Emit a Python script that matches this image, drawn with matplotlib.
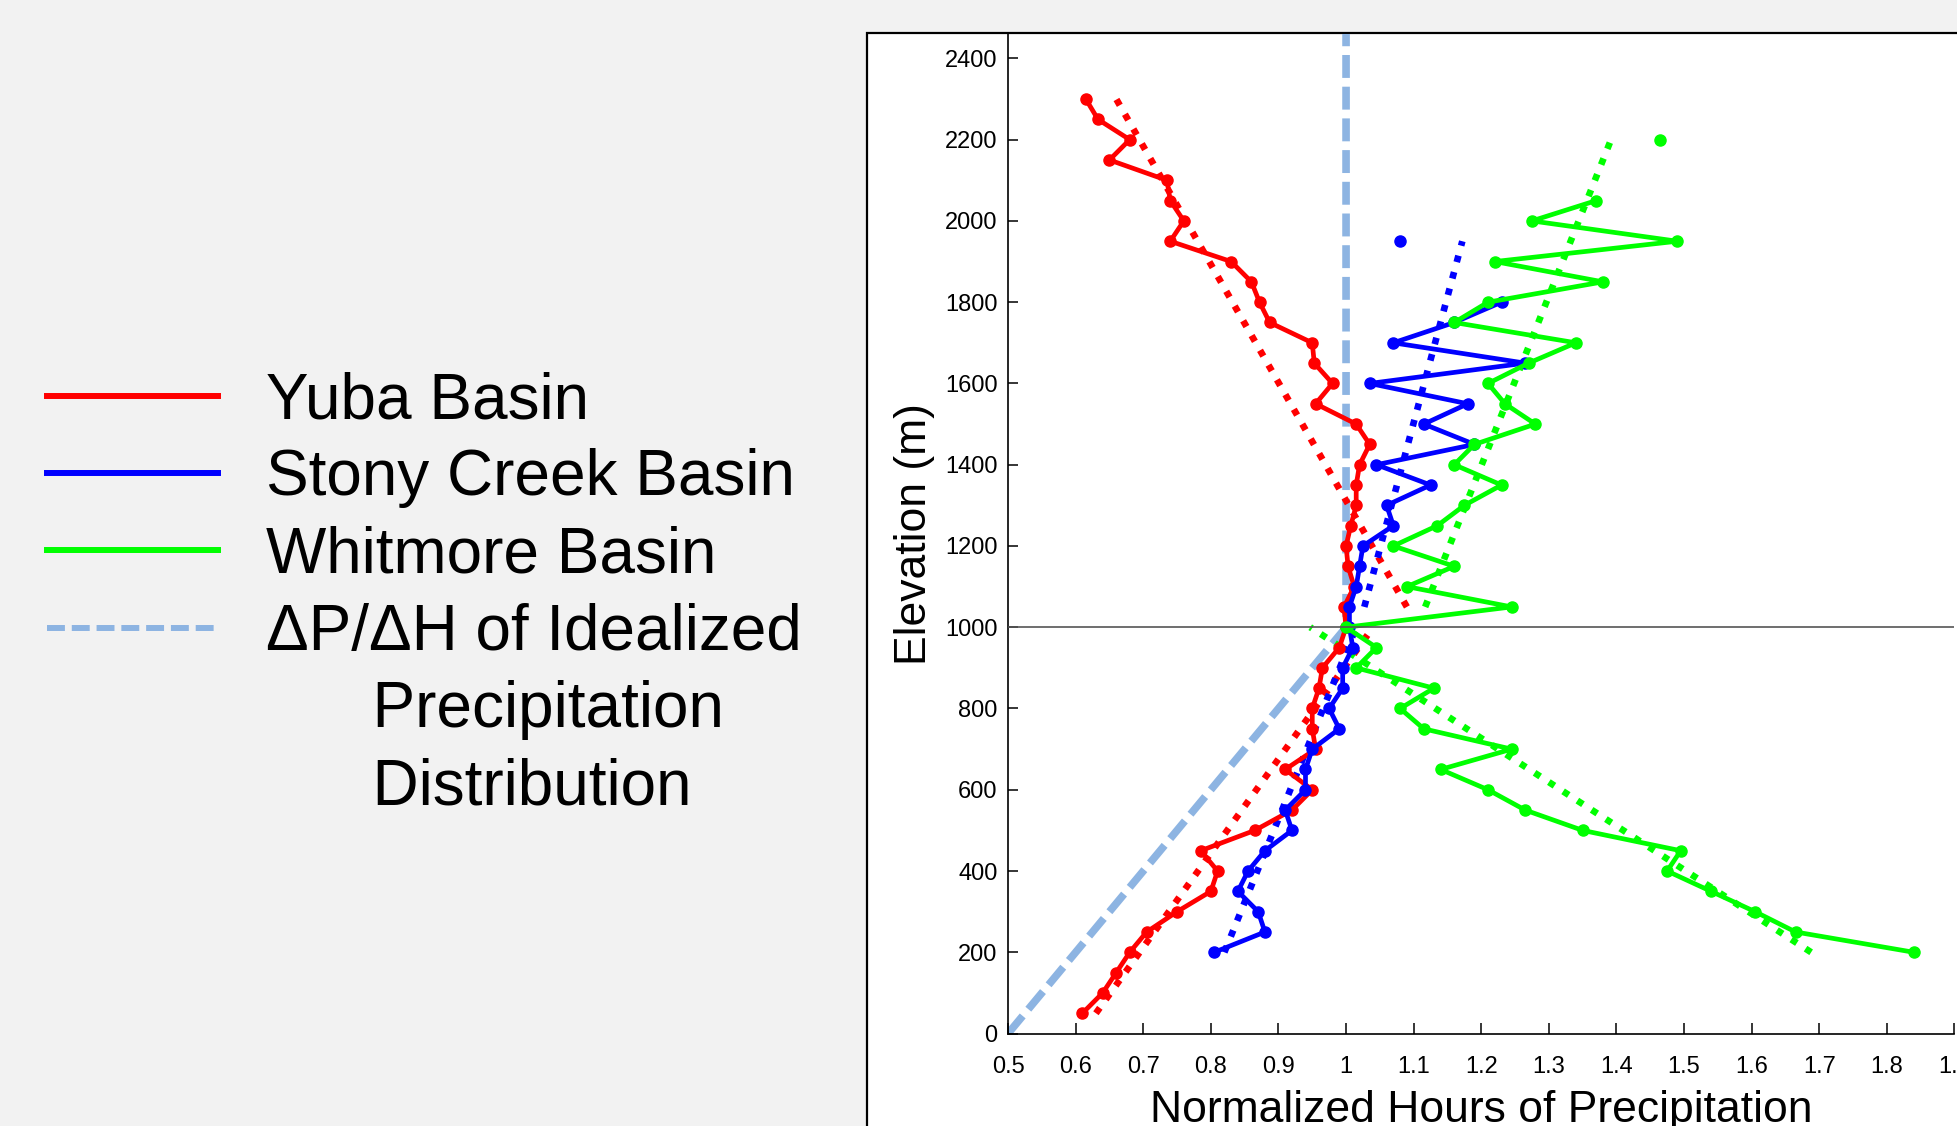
import matplotlib
matplotlib.use('Agg')
import matplotlib.pyplot as plt
from matplotlib.lines import Line2D
from matplotlib.patches import Rectangle
import numpy as np

plt.rcParams['font.family'] = ['Liberation Sans', 'DejaVu Sans']

nan = np.nan

# Yuba Basin: elevation (m) and normalized hours of precipitation
yuba_elev = [50, 100, 150, 200, 250, 300, 350, 400, 450, 500, 550, 600, 650, 700,
             750, 800, 850, 900, 950, 1000, 1050, 1100, 1150, 1200, 1250, 1300,
             1350, 1400, 1450, 1500, 1550, 1600, 1650, 1700, 1750, 1800, 1850,
             1900, 1950, 2000, 2050, 2100, 2150, 2200, 2250, 2300]
yuba_hours = [0.61, 0.64, 0.66, 0.68, 0.705, 0.75, 0.80, 0.81, 0.785, 0.865, 0.92,
              0.95, 0.91, 0.955, 0.95, 0.95, 0.96, 0.965, 0.99, 1.0, 0.997, 1.012,
              1.003, 1.0, 1.007, 1.015, 1.015, 1.02, 1.035, 1.015, 0.955, 0.98,
              0.953, 0.95, 0.887, 0.872, 0.86, 0.83, 0.74, 0.76, 0.74, 0.735,
              0.65, 0.68, 0.633, 0.615]

# Stony Creek Basin
stony_elev = [200, 250, 300, 350, 400, 450, 500, 550, 600, 650, 700, 750, 800, 850,
              900, 950, 1000, 1050, 1100, 1150, 1200, 1250, 1300, 1350, 1400, 1450,
              1500, 1550, 1600, 1650, 1700, 1750, 1800, 1850, 1900, 1950]
stony_hours = [0.805, 0.88, 0.87, 0.84, 0.855, 0.88, 0.92, 0.91, 0.94, 0.94, 0.95,
               0.99, 0.975, 0.995, 0.995, 1.01, 1.005, 1.005, 1.015, 1.02, 1.025,
               1.07, 1.06, 1.125, 1.045, 1.19, 1.115, 1.18, 1.035, 1.265, 1.07,
               1.16, 1.23, nan, nan, 1.08]

# Whitmore Basin
whit_elev = [200, 250, 300, 350, 400, 450, 500, 550, 600, 650, 700, 750, 800, 850,
             900, 950, 1000, 1050, 1100, 1150, 1200, 1250, 1300, 1350, 1400, 1450,
             1500, 1550, 1600, 1650, 1700, 1750, 1800, 1850, 1900, 1950, 2000,
             2050, 2100, 2150, 2200]
whit_hours = [1.84, 1.665, 1.605, 1.54, 1.475, 1.495, 1.35, 1.265, 1.21, 1.14, 1.245,
              1.115, 1.08, 1.13, 1.015, 1.045, 1.0, 1.245, 1.09, 1.16, 1.07, 1.135,
              1.175, 1.23, 1.16, 1.19, 1.28, 1.235, 1.21, 1.27, 1.34, 1.16, 1.21,
              1.38, 1.22, 1.49, 1.275, 1.37, nan, nan, 1.465]

# linear fits below / above 1000 m (end points)
yuba_fit_low_x, yuba_fit_low_y = [0.63, 1.04], [50, 1000]
yuba_fit_up_x, yuba_fit_up_y = [1.09, 0.66], [1050, 2300]
stony_fit_low_x, stony_fit_low_y = [0.82, 1.015], [200, 1000]
stony_fit_up_x, stony_fit_up_y = [1.027, 1.172], [1050, 1950]
whit_fit_low_x, whit_fit_low_y = [1.688, 0.947], [200, 1000]
whit_fit_up_x, whit_fit_up_y = [1.117, 1.392], [1050, 2200]

# idealized precipitation distribution
ideal_x = [0.5, 1.0, 1.0]
ideal_y = [0, 1000, 2500]

x_ticks = [0.5, 0.6, 0.7, 0.8, 0.9, 1.0, 1.1, 1.2, 1.3, 1.4, 1.5, 1.6, 1.7, 1.8, 1.9]
y_ticks = [0, 200, 400, 600, 800, 1000, 1200, 1400, 1600, 1800, 2000, 2200, 2400]

RED = '#FF0000'
BLUE = '#0000FF'
GREEN = '#00FF00'
IDEAL = '#8DB4E2'

fig = plt.figure(figsize=(19.57, 11.26), dpi=100, facecolor='#F2F2F2')

# white frame behind the plot
frame = Rectangle((0.4429, -0.2), 0.7, 1.1704, transform=fig.transFigure,
                  facecolor='white', edgecolor='black', linewidth=1.6, zorder=0)
fig.add_artist(frame)

ax = fig.add_axes([0.5151, 0.0821, 0.4836, 0.8877])
ax.set_facecolor('none')

ax.plot(ideal_x, ideal_y, color=IDEAL, lw=5.5, dashes=(3, 1.15), zorder=1)

dot = dict(lw=4.8, dashes=(1, 1.55), dash_capstyle='butt', zorder=2)
line = dict(lw=3.4, marker='o', ms=8, zorder=3)

ax.plot(yuba_hours, yuba_elev, color=RED, **line)
ax.plot(yuba_fit_low_x, yuba_fit_low_y, color=RED, **dot)
ax.plot(yuba_fit_up_x, yuba_fit_up_y, color=RED, **dot)

ax.plot(stony_hours, stony_elev, color=BLUE, **line)
ax.plot(stony_fit_low_x, stony_fit_low_y, color=BLUE, **dot)
ax.plot(stony_fit_up_x, stony_fit_up_y, color=BLUE, **dot)

ax.plot(whit_hours, whit_elev, color=GREEN, **line)
ax.plot(whit_fit_low_x, whit_fit_low_y, color=GREEN, **dot)
ax.plot(whit_fit_up_x, whit_fit_up_y, color=GREEN, **dot)

ax.axhline(1000, color='#555555', lw=1.2, zorder=6)

ax.set_xlim(0.5, 1.9)
ax.set_ylim(0, 2460)
ax.set_xticks(x_ticks)
ax.set_xticklabels(['%g' % t for t in x_ticks])
ax.set_yticks(y_ticks)

for s in ['top', 'right']:
    ax.spines[s].set_visible(False)
for s in ['left', 'bottom']:
    ax.spines[s].set_linewidth(1.2)

ax.tick_params(axis='both', direction='in', labelsize=17, width=1.1)
ax.tick_params(axis='x', length=8, pad=16.5)
ax.tick_params(axis='y', length=7, pad=7.5)

ax.set_xlabel('Normalized Hours of Precipitation', fontsize=32, labelpad=8)
ax.set_ylabel('Elevation (m)', fontsize=32, labelpad=7)

# legend on the left side
handles = [Line2D([], [], color=RED, lw=4.3),
           Line2D([], [], color=BLUE, lw=4.3),
           Line2D([], [], color=GREEN, lw=4.3),
           Line2D([], [], color=IDEAL, lw=4.3, dashes=(3, 1.15)),
           Line2D([], [], color='none'),
           Line2D([], [], color='none')]
labels = ['Yuba Basin', 'Stony Creek Basin', 'Whitmore Basin',
          '\u0394P/\u0394H of Idealized', '      Precipitation', '      Distribution']
fig.legend(handles, labels, loc='upper left', bbox_to_anchor=(0.024, 0.6703),
           bbox_transform=fig.transFigure, frameon=False, fontsize=46,
           handlelength=2.68, handletextpad=0.75, labelspacing=0.27,
           borderpad=0, borderaxespad=0)

fig.savefig('out.png', dpi=100, facecolor=fig.get_facecolor())
